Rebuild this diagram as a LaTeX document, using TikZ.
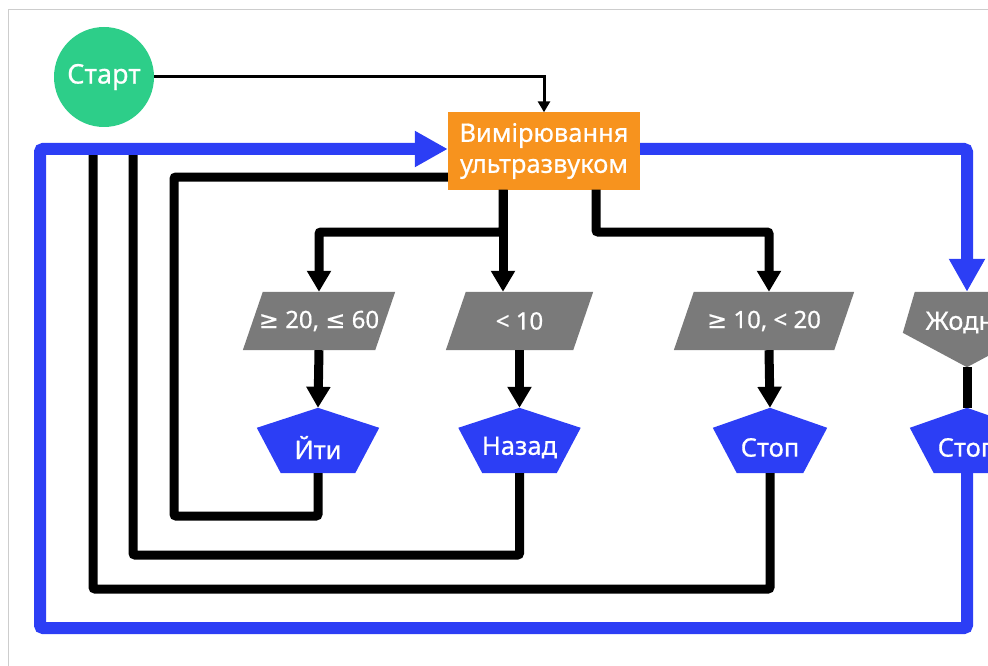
\documentclass[tikz,border=0pt]{standalone}
\usepackage{fontspec}
\setmainfont{Noto Sans}[FakeBold=0.6]
\newfontfamily\symf{DejaVu Sans}[FakeBold=0.4]
\usetikzlibrary{arrows.meta,calc}
\definecolor{cgreen}{RGB}{45,206,137}
\definecolor{corange}{RGB}{247,147,30}
\definecolor{cblue}{RGB}{44,62,245}
\definecolor{cgray}{RGB}{122,122,122}
\definecolor{cborder}{RGB}{205,205,205}
\pgfdeclarelayer{bg}
\pgfsetlayers{bg,main}
\newcommand{\mygeq}{{\symf ≥}}
\newcommand{\myleq}{{\symf ≤}}
\newcommand{\shiftt}[2]{\raisebox{#1}[\height][\depth]{#2}}
\tikzset{
  txt/.style={text=white, font=\fontsize{25.5}{31}\selectfont, inner sep=0pt, align=center},
  startnode/.style={txt, circle, fill=cgreen, minimum size=100pt, font=\fontsize{27}{30}\selectfont},
  measbox/.style={txt, rectangle, fill=corange, minimum width=192pt, minimum height=77pt},
  pbox/.style={txt, rectangle, minimum height=58pt, font=\fontsize{24}{30}\selectfont},
  pentbox/.style={txt, rectangle, minimum height=65pt},
  blk/.style={line width=9pt, black, rounded corners=2pt},
  blkarrow/.style={blk, -{Triangle[width=23pt,length=21pt]}},
  blu/.style={line width=12pt, cblue, rounded corners=3pt},
  bluarrow/.style={blu, -{Triangle[width=34pt,length=33pt]}},
  thinarrow/.style={line width=3pt, black, -{Triangle[width=12pt,length=11pt]}},
}
\begin{document}
\begin{tikzpicture}[x=1pt,y=-1pt]
\useasboundingbox (0,0) rectangle (988,666);
\clip (0,0) rectangle (988,666);
\draw[cborder, line width=1pt] (8,666) -- (8,10) -- (988,10);

% nodes
\node[startnode] (start) at (104,77) {Старт};
\node[measbox] (meas) at (544,151) {Вимірювання\\ультразвуком};

\node[pbox, minimum width=152pt] (p1) at (319,321) {\mygeq\ 20, \myleq\ 60};
\node[pbox, minimum width=147pt] (p2) at (519.5,321) {< 10};
\node[pbox, minimum width=180pt] (p3) at (764,321) {\mygeq\ 10, < 20};
\node[txt, rectangle, minimum width=128pt, minimum height=75pt] (zh) at (967,329.5) {\shiftt{7pt}{Жодне}};

\node[pentbox, minimum width=122pt] (yti) at (318,440.5) {\shiftt{-7pt}{Йти}};
\node[pentbox, minimum width=122pt] (nazad) at (519.5,440.5) {\shiftt{-7pt}{Назад}};
\node[pentbox, minimum width=114pt] (stop1) at (770,440.5) {\shiftt{-7pt}{Стоп}};
\node[pentbox, minimum width=114pt] (stop2) at (967,440.5) {\shiftt{-7pt}{Стоп}};

% shape fills
\begin{pgfonlayer}{bg}
\foreach \n in {p1,p2,p3}{
  \fill[cgray] ($(\n.north west)+(20,0)$) -- (\n.north east) -- ($(\n.south east)-(20,0)$) -- (\n.south west) -- cycle;
}
\fill[cgray] ($(zh.north west)+(12,0)$) -- ($(zh.north east)+(-12,0)$) -- ($(zh.north east)+(0,41)$) -- (zh.south) -- ($(zh.north west)+(0,41)$) -- cycle;
\foreach \n in {yti,nazad,stop1,stop2}{
  \fill[cblue] (\n.north) -- ($(\n.north east)+(0,20)$) -- ($(\n.south east)-(24,0)$) -- ($(\n.south west)+(24,0)$) -- ($(\n.north west)+(0,20)$) -- cycle;
}
\end{pgfonlayer}

% coordinates
\coordinate (j1) at (503,232);
\coordinate (j2) at (596,232);
\coordinate (c1) at (174,516);
\coordinate (c2) at (133,555);
\coordinate (c2top) at (133,150);
\coordinate (c3) at (93,589);
\coordinate (c3top) at (93,150);
\coordinate (cb) at (40,628);

% connectors
\draw[thinarrow] (start.east) -| (meas.north);

\draw[blkarrow] (meas.south -| j1) -- (j1) -| (p1.north);
\draw[blkarrow] (meas.south -| j1) -- (j1 |- p2.north);
\draw[blkarrow] (meas.south -| j2) -- (j2) -| ($(p3.north)+(5,0)$);

\draw[blkarrow] (p1.south) -- (yti.north);
\draw[blkarrow] (p2.south) -- (nazad.north);
\draw[blkarrow] ($(p3.south)+(5,0)$) -- (stop1.north);
\draw[blk] (zh.south) -- (stop2.north);

\draw[blk] (yti.south) |- (c1) |- ($(meas.west)+(0,26)$);
\draw[blk] (nazad.south) |- (c2) -- (c2top);
\draw[blk] (stop1.south) |- (c3) -- (c3top);

\draw[bluarrow] ($(meas.east)+(0,-2)$) -| (zh.north);
\draw[bluarrow] (stop2.south) |- (cb) |- ($(meas.west)+(0,-2)$);
\end{tikzpicture}
\end{document}
